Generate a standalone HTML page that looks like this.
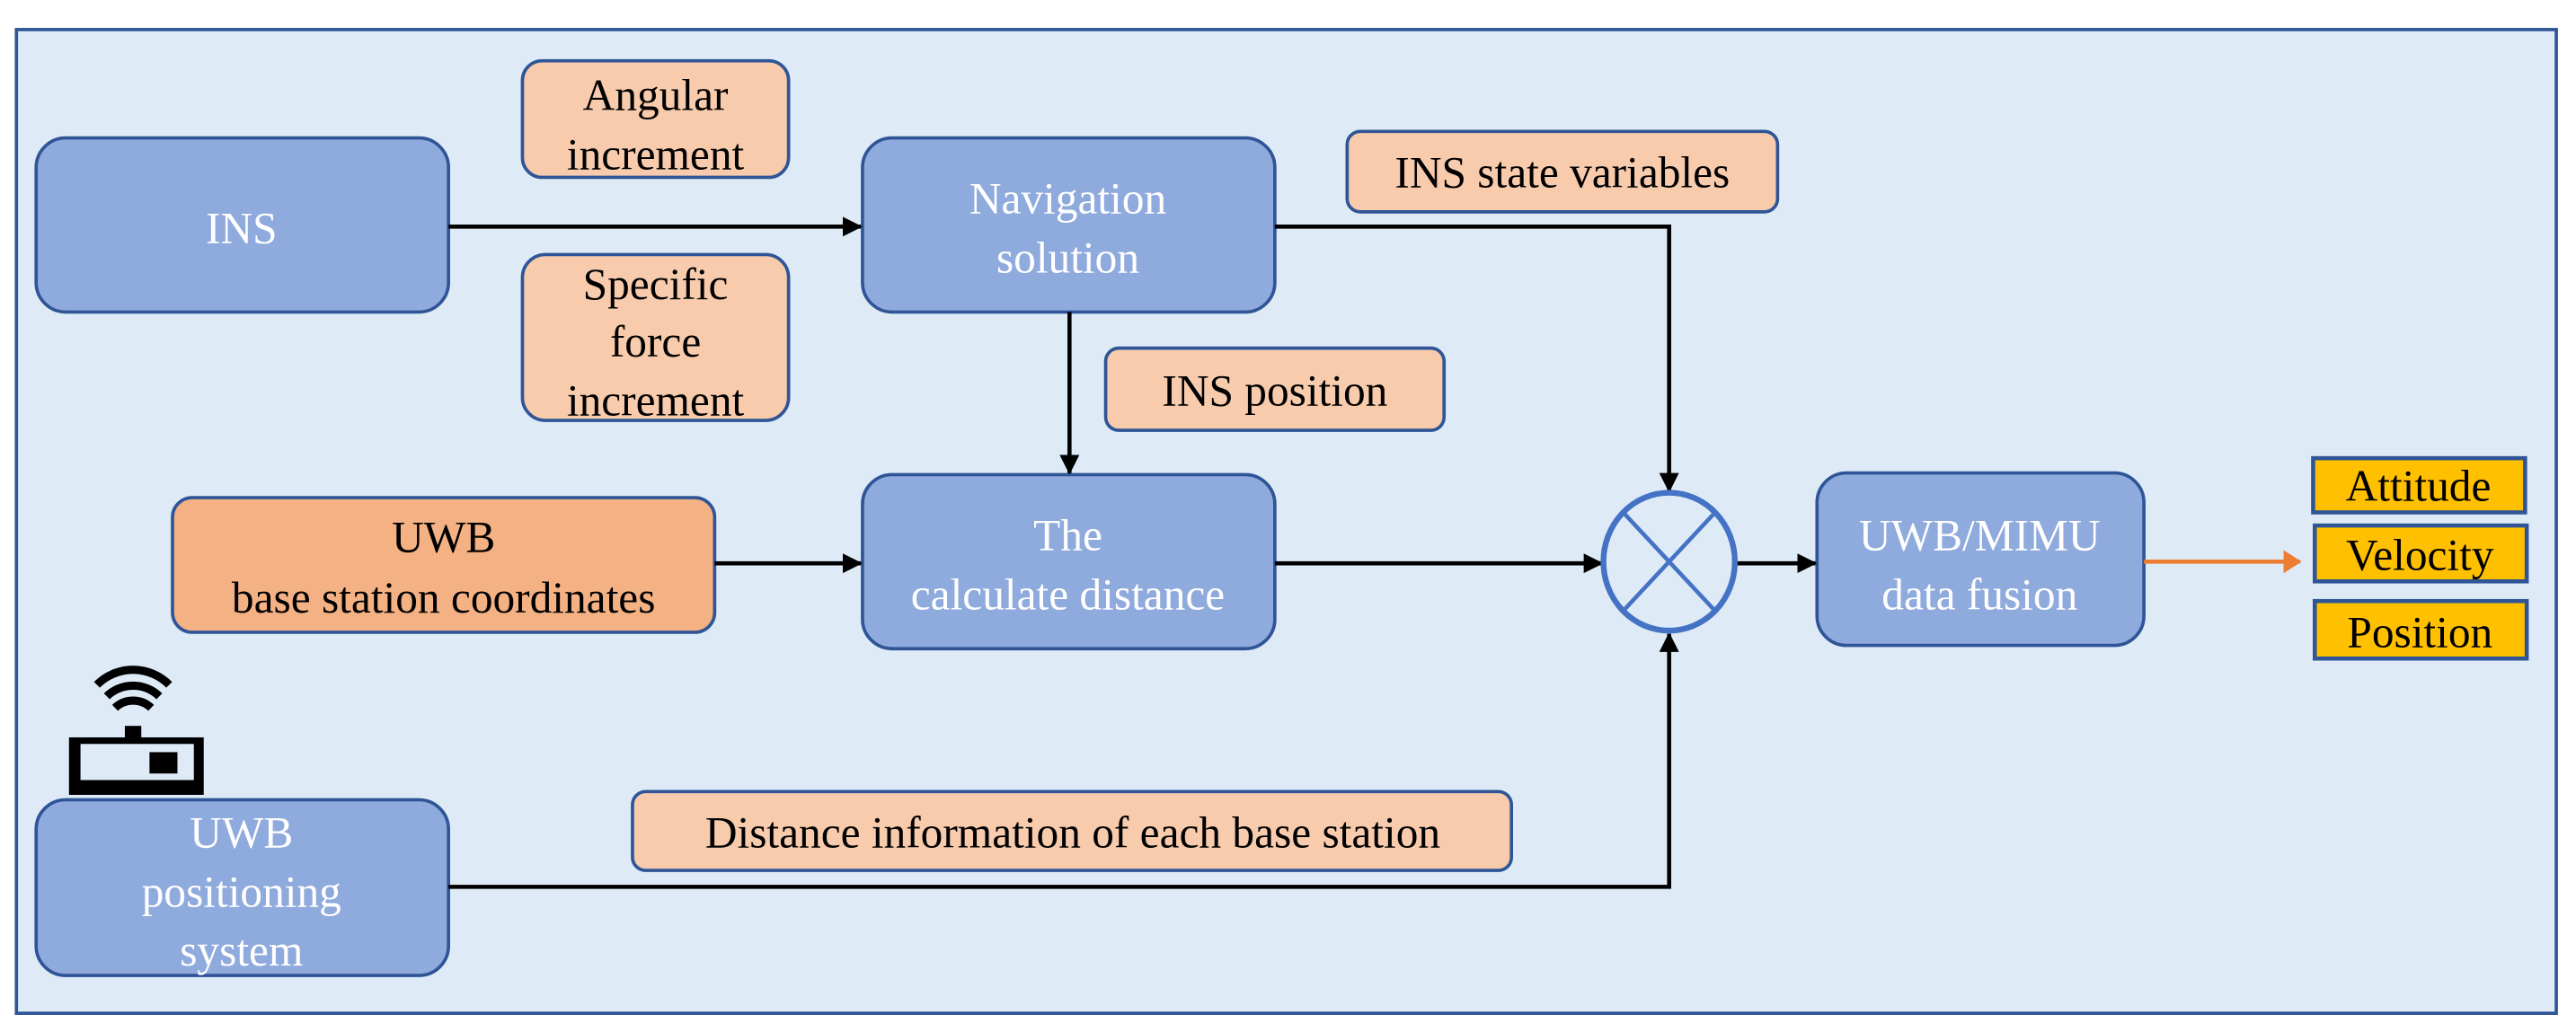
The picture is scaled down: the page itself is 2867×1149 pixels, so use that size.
<!DOCTYPE html>
<html><head><meta charset="utf-8"><style>
html,body{margin:0;padding:0;background:#fff;}
svg{display:block;}
text{font-family:"Liberation Serif","Times New Roman",serif;font-size:27px;text-anchor:middle;}
.w{fill:#fff;}
.k{fill:#000;}
</style></head><body>
<svg width="2867" height="1149" viewBox="0 0 1568 628.4" xmlns="http://www.w3.org/2000/svg">
<defs>
<marker id="a" markerWidth="12" markerHeight="12" refX="11" refY="6" orient="auto" markerUnits="userSpaceOnUse"><path d="M0,0 L12,6 L0,12 z" fill="#000"/></marker>
<marker id="o" markerWidth="11" markerHeight="14" refX="10" refY="7" orient="auto" markerUnits="userSpaceOnUse"><path d="M0,0 L11,7 L0,14 z" fill="#ED7D31"/></marker>
</defs>
<rect x="10" y="18" width="1546" height="599" fill="#DEEBF7" stroke="#2F5597" stroke-width="2"/>
<g stroke="#2F5597" stroke-width="2">
<rect x="22" y="84" width="251" height="106" rx="18" fill="#8FAADC"/>
<rect x="525" y="84" width="251" height="106" rx="18" fill="#8FAADC"/>
<rect x="525" y="289" width="251" height="106" rx="18" fill="#8FAADC"/>
<rect x="1106" y="288" width="199" height="105" rx="18" fill="#8FAADC"/>
<rect x="22" y="487" width="251" height="107" rx="18" fill="#8FAADC"/>
<rect x="318" y="37" width="162" height="71" rx="12" fill="#F8CBAD"/>
<rect x="318" y="155" width="162" height="101" rx="14" fill="#F8CBAD"/>
<rect x="820" y="80" width="262" height="49" rx="8" fill="#F8CBAD"/>
<rect x="673" y="212" width="206" height="50" rx="8" fill="#F8CBAD"/>
<rect x="385" y="482" width="535" height="48" rx="8" fill="#F8CBAD"/>
<rect x="105" y="303" width="330" height="82" rx="12" fill="#F4B183"/>
<rect x="1408" y="279" width="129" height="33" fill="#FFC000" stroke-width="2.5"/>
<rect x="1409" y="320" width="129" height="34" fill="#FFC000" stroke-width="2.5"/>
<rect x="1409" y="366" width="129" height="35" fill="#FFC000" stroke-width="2.5"/>
</g>
<g stroke="#000" stroke-width="2.5" fill="none">
<line x1="273" y1="138" x2="524" y2="138" marker-end="url(#a)"/>
<polyline points="776,138 1016,138 1016,299" marker-end="url(#a)"/>
<line x1="651" y1="190" x2="651" y2="288" marker-end="url(#a)"/>
<line x1="435" y1="343" x2="524" y2="343" marker-end="url(#a)"/>
<line x1="776" y1="343" x2="975" y2="343" marker-end="url(#a)"/>
<line x1="1057" y1="343" x2="1105" y2="343" marker-end="url(#a)"/>
<polyline points="273,540 1016,540 1016,386" marker-end="url(#a)"/>
</g>
<line x1="1305" y1="342" x2="1400" y2="342" stroke="#ED7D31" stroke-width="2.5" marker-end="url(#o)"/>
<g stroke="#4472C4" fill="none">
<ellipse cx="1016" cy="342" rx="40" ry="42" stroke-width="3.5"/>
<line x1="988" y1="312" x2="1044" y2="372" stroke-width="2.5"/>
<line x1="1044" y1="312" x2="988" y2="372" stroke-width="2.5"/>
</g>
<g>
<rect x="42" y="449" width="82" height="35" fill="#000"/>
<rect x="49" y="453" width="69" height="22" fill="#DEEBF7"/>
<rect x="91" y="458" width="17" height="13" fill="#000"/>
<rect x="76" y="442" width="10" height="8" fill="#000"/>
<path d="M70,431 A16,16 0 0 1 92,431" stroke="#000" stroke-width="5" fill="none"/>
<path d="M65,424 A23,23 0 0 1 97,424" stroke="#000" stroke-width="5" fill="none"/>
<path d="M59,417 A31,31 0 0 1 103,417" stroke="#000" stroke-width="5" fill="none"/>
</g>
<text class="w" x="147" y="148">INS</text>
<text class="w" x="650" y="130">Navigation</text>
<text class="w" x="650" y="166">solution</text>
<text class="w" x="650" y="335">The</text>
<text class="w" x="650" y="371">calculate distance</text>
<text class="w" x="1205" y="335">UWB/MIMU</text>
<text class="w" x="1205" y="371">data fusion</text>
<text class="w" x="147" y="516">UWB</text>
<text class="w" x="147" y="552">positioning</text>
<text class="w" x="147" y="588">system</text>
<text class="k" x="399" y="67">Angular</text>
<text class="k" x="399" y="103">increment</text>
<text class="k" x="399" y="182">Specific</text>
<text class="k" x="399" y="217">force</text>
<text class="k" x="399" y="253">increment</text>
<text class="k" x="951" y="114">INS state variables</text>
<text class="k" x="776" y="247">INS position</text>
<text class="k" x="653" y="516">Distance information of each base station</text>
<text class="k" x="270" y="336">UWB</text>
<text class="k" x="270" y="373">base station coordinates</text>
<text class="k" x="1472" y="305">Attitude</text>
<text class="k" x="1473" y="347">Velocity</text>
<text class="k" x="1473" y="394">Position</text>
</svg>
</body></html>
